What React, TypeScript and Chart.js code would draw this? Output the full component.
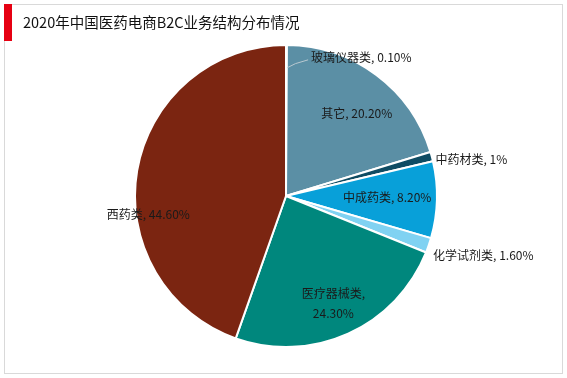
import React, { useEffect, useRef } from "react";
import { Chart, registerables } from "chart.js";

Chart.register(...registerables);

const TITLE = "2020年中国医药电商B2C业务结构分布情况";
const categories = ["玻璃仪器类", "其它", "中药材类", "中成药类", "化学试剂类", "医疗器械类", "西药类"];
const values = [0.1, 20.2, 1, 8.2, 1.6, 24.3, 44.6];
const valueLabels = ["0.10%", "20.20%", "1%", "8.20%", "1.60%", "24.30%", "44.60%"];
const colors = ["#5B8FA5", "#5B8FA5", "#0F4C63", "#08A0D9", "#80D2F2", "#00877D", "#7B2511"];

// label placement in polar terms relative to pie centre: angle (deg), radius factor, alignment
const labelPlacement = [
  { a: -79.7, r: 0.93, align: "left", leader: true },
  { a: -49.4, r: 0.72, align: "center" },
  { a: -13.9, r: 1.02, align: "left" },
  { a: 0.6, r: 0.67, align: "center" },
  { a: 21.9, r: 1.05, align: "left" },
  { a: 66.3, r: 0.78, align: "center", twoLine: true },
  { a: 172.2, r: 0.92, align: "center" },
];

const FONT = '"Microsoft YaHei", "Noto Sans CJK SC", sans-serif';

const labelPlugin = {
  id: "sliceLabels",
  afterDatasetsDraw(chart: any) {
    const ctx = chart.ctx;
    const meta = chart.getDatasetMeta(0);
    ctx.save();
    ctx.font = `12px ${FONT}`;
    ctx.fillStyle = "#1a1a1a";
    ctx.textBaseline = "middle";
    meta.data.forEach((arc: any, i: number) => {
      const p = labelPlacement[i];
      const R = arc.outerRadius;
      const ang = (p.a * Math.PI) / 180;
      const x = arc.x + Math.cos(ang) * R * p.r;
      const y = arc.y + Math.sin(ang) * R * p.r;
      ctx.textAlign = p.align;
      if (p.leader) {
        const mid = (arc.startAngle + arc.endAngle) / 2;
        const sx = arc.x + Math.cos(mid) * R * 0.85 + 1;
        const sy = arc.y + Math.sin(mid) * R * 0.85;
        ctx.strokeStyle = "#b8c8d0";
        ctx.lineWidth = 1;
        ctx.beginPath();
        ctx.moveTo(sx, sy);
        ctx.lineTo(sx + 8, sy - 4);
        ctx.lineTo(x - 3, y + 2);
        ctx.stroke();
      }
      if (p.twoLine) {
        ctx.fillText(categories[i] + ",", x, y - 10);
        ctx.fillText(valueLabels[i], x, y + 10);
      } else {
        ctx.fillText(`${categories[i]}, ${valueLabels[i]}`, x, y);
      }
    });
    ctx.restore();
  },
};

const framePlugin = {
  id: "frame",
  beforeDraw(chart: any) {
    const ctx = chart.ctx;
    ctx.save();
    ctx.fillStyle = "#ffffff";
    ctx.fillRect(0, 0, chart.width, chart.height);
    ctx.strokeStyle = "#d9d9d9";
    ctx.lineWidth = 1;
    ctx.strokeRect(4.5, 4.5, 558, 369);
    ctx.fillStyle = "#e60012";
    ctx.fillRect(4, 4, 8, 37);
    ctx.fillStyle = "#111";
    ctx.font = `14.5px ${FONT}`;
    ctx.textBaseline = "middle";
    ctx.textAlign = "left";
    ctx.fillText(TITLE, 23, 22);
    ctx.restore();
  },
};

export default function App() {
  const ref = useRef<HTMLCanvasElement>(null);
  useEffect(() => {
    if (!ref.current) return;
    const chart = new Chart(ref.current, {
      type: "pie",
      data: {
        labels: categories,
        datasets: [
          {
            data: values,
            backgroundColor: colors,
            borderColor: "#ffffff",
            borderWidth: 2,
          },
        ],
      },
      options: {
        animation: false,
        responsive: false,
        devicePixelRatio: 1,
        layout: { padding: { top: 44, bottom: 30, left: 134, right: 129 } },
        plugins: { legend: { display: false }, tooltip: { enabled: false }, title: { display: false } },
      },
      plugins: [framePlugin, labelPlugin],
    });
    return () => chart.destroy();
  }, []);
  return (
    <div style={{ position: "fixed", left: 0, top: 0, width: 567, height: 378, background: "#fff" }}>
      <canvas ref={ref} width={567} height={378} style={{ width: 567, height: 378 }} />
    </div>
  );
}
